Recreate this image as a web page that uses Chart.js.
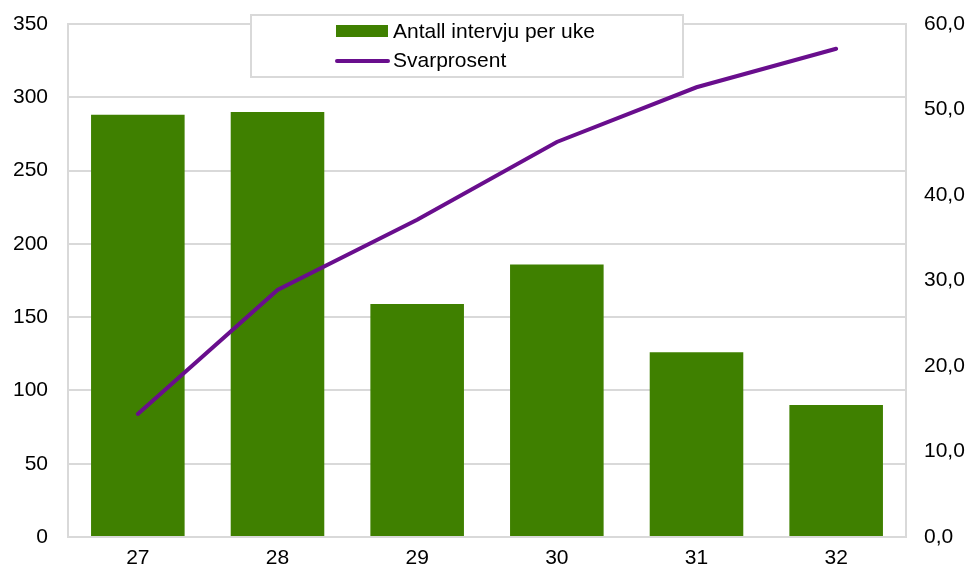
<!DOCTYPE html>
<html>
<head>
<meta charset="utf-8">
<script src="https://cdn.jsdelivr.net/npm/chart.js@4/dist/chart.umd.min.js"></script>
<style>
  html, body { margin: 0; padding: 0; background: #fff; }
  #wrap { width: 971px; height: 570px; }
</style>
</head>
<body>
<div id="wrap"><canvas id="chart" width="971" height="570"></canvas></div>
<script>
const weeks = ["27", "28", "29", "30", "31", "32"];
const interviews = [288, 290, 159, 186, 126, 90];
const responseRate = [14.4, 28.9, 37.1, 46.2, 52.6, 57.1];

const leftTicks = [0, 50, 100, 150, 200, 250, 300, 350];
const rightTicks = [0, 10, 20, 30, 40, 50, 60];

const gridColor = "#d9d9d9";
const fontFamily = "'Liberation Sans', Arial, sans-serif";

// legend box sits on top of the plot, like in the spreadsheet original
const boxLegend = {
  id: "boxLegend",
  afterDraw(chart) {
    const ctx = chart.ctx;
    const sets = chart.data.datasets;
    ctx.save();
    ctx.fillStyle = "#fff";
    ctx.fillRect(251, 15, 432, 62);
    ctx.strokeStyle = gridColor;
    ctx.lineWidth = 2;
    ctx.strokeRect(251, 15, 432, 62);

    ctx.font = "21px " + fontFamily;
    ctx.textBaseline = "middle";

    // bar entry
    ctx.fillStyle = sets[0].backgroundColor;
    ctx.fillRect(336, 25, 52, 12);
    ctx.fillStyle = "#000";
    ctx.fillText(sets[0].label, 393, 32);

    // line entry
    ctx.strokeStyle = sets[1].borderColor;
    ctx.lineWidth = 4;
    ctx.lineCap = "round";
    ctx.beginPath();
    ctx.moveTo(337, 61);
    ctx.lineTo(388, 61);
    ctx.stroke();
    ctx.fillText(sets[1].label, 393, 61);
    ctx.restore();
  }
};

function fixVertical(width) {
  return function (scale) {
    scale.width = width;
    scale.paddingTop = 0;
    scale.paddingBottom = 0;
  };
}

new Chart(document.getElementById("chart"), {
  type: "bar",
  data: {
    labels: weeks,
    datasets: [
      {
        type: "bar",
        label: "Antall intervju per uke",
        data: interviews,
        backgroundColor: "#3f8000",
        barPercentage: 0.67,
        categoryPercentage: 1,
        yAxisID: "y",
        order: 2
      },
      {
        type: "line",
        label: "Svarprosent",
        data: responseRate,
        borderColor: "#690e8d",
        borderWidth: 4,
        borderCapStyle: "round",
        pointRadius: 0,
        tension: 0,
        yAxisID: "y1",
        order: 1
      }
    ]
  },
  options: {
    responsive: false,
    animation: false,
    layout: { padding: { left: 0, right: 0, top: 24, bottom: 0 } },
    plugins: {
      legend: { display: false },
      tooltip: { enabled: false }
    },
    scales: {
      x: {
        offset: true,
        grid: { display: false, drawTicks: false },
        border: { color: gridColor, width: 2 },
        ticks: {
          color: "#000",
          padding: 9,
          font: { size: 21, family: fontFamily }
        },
        afterFit(scale) { scale.height = 33; }
      },
      y: {
        position: "left",
        min: 0,
        max: 350,
        afterBuildTicks(scale) { scale.ticks = leftTicks.map(v => ({ value: v })); },
        grid: { color: gridColor, lineWidth: 2, drawTicks: false },
        border: { color: gridColor, width: 2 },
        ticks: {
          color: "#000",
          padding: 20,
          font: { size: 21, family: fontFamily }
        },
        afterFit: fixVertical(68)
      },
      y1: {
        position: "right",
        min: 0,
        max: 60,
        afterBuildTicks(scale) { scale.ticks = rightTicks.map(v => ({ value: v })); },
        grid: { display: false, drawTicks: false },
        border: { color: gridColor, width: 2 },
        ticks: {
          color: "#000",
          padding: 18,
          font: { size: 21, family: fontFamily },
          callback: v => v.toFixed(1).replace(".", ",")
        },
        afterFit: fixVertical(65)
      }
    }
  },
  plugins: [boxLegend]
});
</script>
</body>
</html>
